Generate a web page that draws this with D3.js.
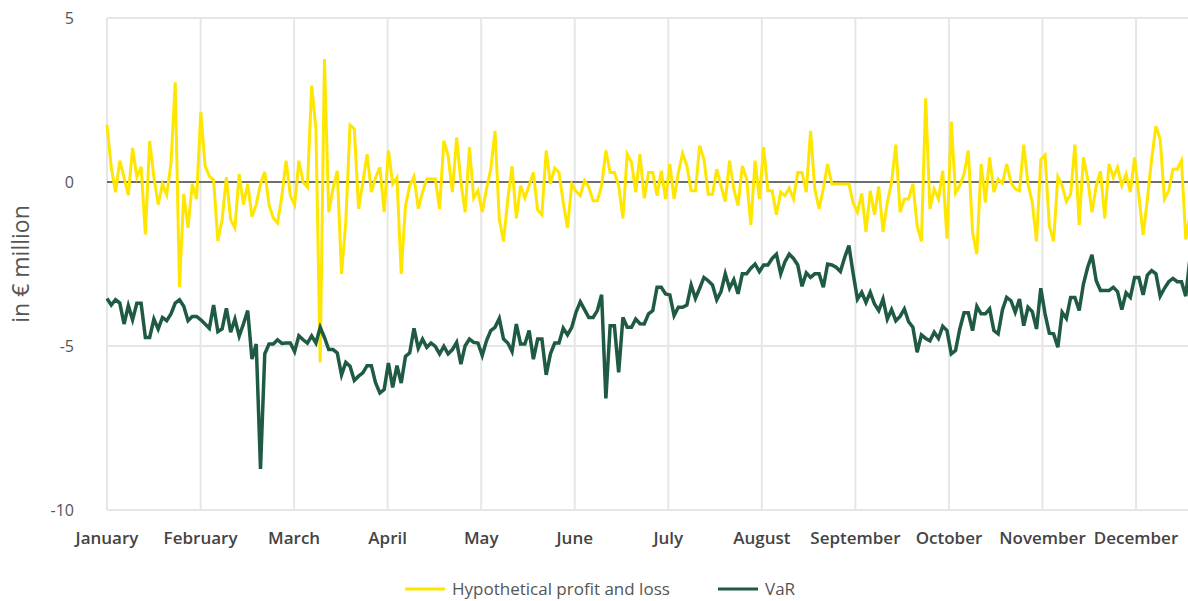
<!DOCTYPE html>
<html>
<head>
<meta charset="utf-8">
<script src="https://cdn.jsdelivr.net/npm/d3@7"></script>
<style>
  body { margin: 0; background: #fff; }
  svg { display: block; font-family: "Open Sans", "Noto Sans", sans-serif; }
</style>
</head>
<body>
<svg id="chart"></svg>
<script>
// month labels along the x axis
var months = ["January", "February", "March", "April", "May", "June",
              "July", "August", "September", "October", "November", "December"];

// y axis ticks (in € million)
var yTicks = [5, 0, -5, -10];

// trading days per month slot on the axis
var daysPerMonth = 21.94;

// hypothetical profit and loss, daily
var pnl = [
  1.74, 0.45, -0.31, 0.65, 0.14, -0.4, 1.04, 0.15, 0.46, -1.6,
  1.25, 0.15, -0.69, -0.06, -0.39, 0.55, 3.04, -3.2, -0.37, -1.4,
  -0.06, -0.52, 2.14, 0.49, 0.18, 0.06, -1.8, -1.15, 0.15, -1.15,
  -1.4, 0.24, -0.69, -0.06, -1.06, -0.69, -0.06, 0.31, -0.69, -1.1,
  -1.25, -0.43, 0.65, -0.42, -0.70, 0.65, -0.01, -0.16, 2.94, 1.62,
  -5.5, 3.75, -0.92, -0.21, 0.34, -2.80, -1.23, 1.74, 1.62, -0.82,
  -0.01, 0.85, -0.31, 0.14, 0.45, -0.92, 0.96, -0.06, 0.14, -2.80,
  -0.72, -0.11, 0.16, -0.82, -0.31, 0.09, 0.09, 0.09, -0.82, 1.26,
  0.80, -0.31, 1.36, -0.01, -0.92, 1.06, -0.49, -0.27, -0.92, -0.21,
  0.39, 1.56, -1.13, -1.81, -0.52, 0.48, -1.11, -0.11, -0.49, -0.11,
  0.29, -0.85, -1.0, 0.96, -0.06, 0.42, 0.29, -0.62, -1.40, -0.06,
  -0.28, -0.42, 0.04, -0.16, -0.57, -0.57, -0.11, 0.96, 0.29, 0.29,
  -0.11, -1.11, 0.85, 0.60, -0.31, 0.85, -0.50, 0.29, 0.29, -0.42,
  0.34, -0.52, 0.55, -0.52, 0.29, 0.87, 0.49, -0.27, -0.27, 1.11,
  0.70, -0.37, -0.37, 0.39, -0.11, -0.60, 0.65, -0.21, -0.72, 0.49,
  0.10, -1.31, 0.65, -0.52, 1.06, -0.27, -0.27, -1.0, -0.31, -0.42,
  -0.19, -0.52, 0.29, 0.29, -0.31, 1.56, -0.21, -0.82, -0.2, 0.55,
  -0.06, -0.06, -0.06, -0.06, -0.06, -0.64, -0.92, -0.35, -1.52, -0.27,
  -1.0, -0.14, -1.52, -0.62, -0.01, 1.14, -0.92, -0.52, -0.52, -0.06,
  -1.33, -1.81, 2.55, -0.82, -0.21, -0.52, 0.34, -1.72, 1.84, -0.34,
  -0.11, 0.24, 0.96, -1.54, -2.20, 0.55, -0.62, 0.75, -0.31, 0.09,
  -0.04, 0.55, -0.01, -0.21, -0.27, 1.14, -0.06, -0.62, -1.81, 0.68,
  0.82, -1.33, -1.81, 0.16, -0.11, -0.60, -0.37, 1.14, -1.31, 0.75,
  0.09, -0.92, -0.11, 0.33, -1.11, 0.55, 0.14, 0.45, -0.11, 0.24,
  -0.31, 0.75, -0.42, -1.62, -0.52, 0.70, 1.70, 1.31, -0.52, -0.27,
  0.39, 0.39, 0.65, -1.75, -1.0
];

// value at risk, daily
var varValues = [
  -3.55, -3.75, -3.59, -3.69, -4.33, -3.77, -4.20, -3.70, -3.70, -4.74,
  -4.74, -4.18, -4.48, -4.13, -4.23, -4.02, -3.69, -3.59, -3.79, -4.23,
  -4.10, -4.10, -4.20, -4.33, -4.46, -3.75, -4.56, -4.48, -3.85, -4.58,
  -4.18, -4.70, -4.33, -3.92, -5.40, -4.94, -8.75, -5.24, -4.94, -4.94,
  -4.81, -4.92, -4.91, -4.91, -5.17, -4.69, -4.81, -4.91, -4.69, -4.91,
  -4.43, -4.74, -5.11, -5.11, -5.21, -5.88, -5.50, -5.62, -6.05, -5.92,
  -5.82, -5.60, -5.60, -6.13, -6.43, -6.33, -5.52, -6.26, -5.60, -6.13,
  -5.32, -5.21, -4.46, -5.07, -4.79, -5.04, -4.91, -5.01, -5.24, -5.01,
  -5.24, -5.11, -4.89, -5.55, -4.99, -4.79, -4.89, -4.91, -5.29, -4.84,
  -4.53, -4.43, -4.16, -4.79, -4.91, -5.17, -4.33, -4.94, -4.94, -4.53,
  -5.40, -4.79, -4.79, -5.88, -5.24, -4.91, -4.91, -4.46, -4.66, -4.43,
  -3.97, -3.65, -3.89, -4.13, -4.13, -3.92, -3.44, -6.60, -4.38, -4.38,
  -5.80, -4.13, -4.43, -4.43, -4.18, -4.32, -4.33, -4.02, -3.92, -3.21,
  -3.21, -3.41, -3.44, -4.07, -3.82, -3.82, -3.75, -3.14, -3.55, -3.24,
  -2.91, -3.01, -3.14, -3.59, -3.34, -2.80, -3.24, -2.98, -3.41, -2.80,
  -2.80, -2.63, -2.50, -2.73, -2.53, -2.53, -2.33, -2.20, -2.80, -2.43,
  -2.20, -2.33, -2.53, -3.18, -2.77, -2.91, -2.80, -2.80, -3.21, -2.50,
  -2.53, -2.60, -2.73, -2.30, -1.94, -2.80, -3.57, -3.36, -3.67, -3.36,
  -3.72, -3.92, -3.57, -4.18, -3.89, -4.23, -4.10, -3.87, -4.26, -4.43,
  -5.19, -4.66, -4.77, -4.84, -4.58, -4.77, -4.40, -4.53, -5.24, -5.14,
  -4.48, -3.99, -3.99, -4.53, -3.79, -4.02, -4.02, -3.87, -4.53, -4.63,
  -3.90, -3.52, -3.62, -3.97, -3.57, -4.38, -3.82, -3.95, -4.48, -3.24,
  -4.02, -4.61, -4.63, -5.04, -3.97, -4.16, -3.52, -3.52, -3.92, -3.11,
  -2.60, -2.22, -3.01, -3.31, -3.31, -3.31, -3.21, -3.34, -3.89, -3.38,
  -3.52, -2.91, -2.91, -3.44, -2.84, -2.70, -2.80, -3.48, -3.24, -3.04,
  -2.94, -3.04, -3.04, -3.48, -2.3
];

var width = 1188, height = 601;
var plotLeft = 107, plotRight = 1188, plotTop = 18, plotBottom = 510;

var svg = d3.select("#chart")
    .attr("width", width)
    .attr("height", height);

// x in month units (0 = start of January), each month slot equally wide
var x = d3.scaleLinear()
    .domain([0, 12])
    .range([plotLeft, plotLeft + 12 * 93.55]);

var y = d3.scaleLinear()
    .domain([-10, 5])
    .range([plotBottom, plotTop]);

svg.append("defs").append("clipPath")
    .attr("id", "plotClip")
  .append("rect")
    .attr("x", plotLeft - 5).attr("y", 0)
    .attr("width", plotRight - plotLeft + 5).attr("height", plotBottom + 10);

// vertical month gridlines
svg.append("g")
  .selectAll("line")
  .data(months)
  .enter().append("line")
    .attr("x1", function(d, i) { return x(i); })
    .attr("x2", function(d, i) { return x(i); })
    .attr("y1", plotTop)
    .attr("y2", plotBottom)
    .attr("stroke", "#e6e6e6")
    .attr("stroke-width", 2);

// horizontal gridlines (zero line drawn darker)
svg.append("g")
  .selectAll("line")
  .data(yTicks)
  .enter().append("line")
    .attr("x1", plotLeft)
    .attr("x2", plotRight)
    .attr("y1", function(d) { return y(d); })
    .attr("y2", function(d) { return y(d); })
    .attr("stroke", function(d) { return d === 0 ? "#6e6e6e" : "#e6e6e6"; })
    .attr("stroke-width", 2);

// y tick labels
svg.append("g")
  .selectAll("text")
  .data(yTicks)
  .enter().append("text")
    .attr("x", 74)
    .attr("y", function(d) { return y(d); })
    .attr("dy", "0.35em")
    .attr("text-anchor", "end")
    .attr("fill", "#555")
    .style("font-size", "16px")
    .text(function(d) { return d; });

// y axis title
svg.append("text")
    .attr("transform", "translate(29," + ((plotTop + plotBottom) / 2) + ")rotate(-90)")
    .attr("text-anchor", "middle")
    .attr("fill", "#555")
    .style("font-size", "23px")
    .text("in € million");

// month labels
svg.append("g")
  .selectAll("text")
  .data(months)
  .enter().append("text")
    .attr("x", function(d, i) { return x(i); })
    .attr("y", 538)
    .attr("dy", "0.35em")
    .attr("text-anchor", "middle")
    .attr("fill", "#444")
    .style("font-size", "17px")
    .style("font-weight", 600)
    .text(function(d) { return d; });

var line = d3.line()
    .x(function(d, i) { return x(i / daysPerMonth); })
    .y(function(d) { return y(d); });

var lines = svg.append("g").attr("clip-path", "url(#plotClip)");

lines.append("path")
    .datum(pnl)
    .attr("fill", "none")
    .attr("stroke", "#ffe600")
    .attr("stroke-width", 3)
    .attr("d", line);

lines.append("path")
    .datum(varValues)
    .attr("fill", "none")
    .attr("stroke", "#1f5a42")
    .attr("stroke-width", 3.5)
    .attr("d", line);

// legend
var legend = [
  { name: "Hypothetical profit and loss", color: "#ffe600", x: 405 },
  { name: "VaR", color: "#1f5a42", x: 718 }
];

var item = svg.append("g")
  .selectAll("g")
  .data(legend)
  .enter().append("g")
    .attr("transform", function(d) { return "translate(" + d.x + ",589)"; });

item.append("line")
    .attr("x1", 0).attr("x2", 40)
    .attr("stroke", function(d) { return d.color; })
    .attr("stroke-width", 3);

item.append("text")
    .attr("x", 47)
    .attr("dy", "0.35em")
    .attr("fill", "#555")
    .style("font-size", "17px")
    .text(function(d) { return d.name; });
</script>
</body>
</html>
